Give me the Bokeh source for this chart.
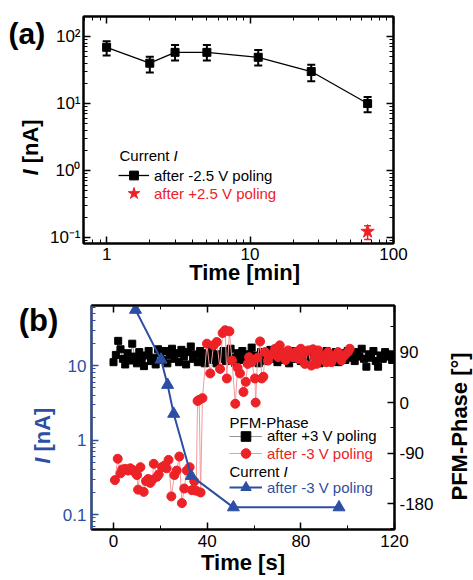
import numpy as np
from bokeh.plotting import figure
from bokeh.layouts import column, row
from bokeh.models import (Range1d, LinearScale, LogAxis, LinearAxis, FixedTicker,
                          CustomJSTickFormatter, Whisker, TeeHead, ColumnDataSource,
                          Label, Legend, LegendItem)
from bokeh.embed import file_html
from bokeh.resources import INLINE

FONT = "Liberation Sans"
RED = "#ec2227"
BLUE = "#2d4fa3"

# ---------------- panel (a) data ----------------
t_min = [1, 2, 3, 5, 11.4, 26.7, 66]
I_neg = [69, 40, 58, 58, 49, 30, 10]
I_neg_hi = [85, 50, 75, 75, 63, 38, 12.5]
I_neg_lo = [52, 29, 44, 44, 37, 21.5, 7.4]
t_pos = [66]
I_pos = [0.123]
I_pos_hi = [0.15]
I_pos_lo = [0.093]
a_xticks = [1, 10, 100]
a_yticks = [0.1, 1, 10, 100]

# ---------------- panel (b) data ----------------
t_cur = [9.4, 20.3, 23.1, 25.7, 33.2, 51.2, 96.3]
I_cur = [56, 12, 5.5, 2.25, 0.33, 0.125, 0.125]

t_black = [0, 1, 2, 3, 4, 5, 6, 7, 8, 9, 10, 11, 12, 13, 14, 15, 16, 17, 18, 19,
           20, 21, 22, 23, 24, 25, 26, 27, 28, 29, 30, 31, 32, 33, 34, 35, 36, 37, 38, 39,
           40, 41, 42, 43, 44, 45, 46, 47, 48, 49, 50, 51, 52, 53, 54, 55, 56, 57, 58, 59,
           60, 61, 62, 63, 64, 65, 66, 67, 68, 69, 70, 71, 72, 73, 74, 75, 76, 77, 78, 79,
           80, 81, 82, 83, 84, 85, 86, 87, 88, 89, 90, 91, 92, 93, 94, 95, 96, 97, 98, 99,
           100, 101, 102, 103, 104, 105, 106, 107, 108, 109, 110, 111, 112, 113, 114, 115,
           116, 117, 118, 119, 120]
ph_black = [72, 85, 110, 95, 78, 68, 88, 75, 105, 82, 70, 90, 78, 65, 84, 92, 74, 80, 68, 95,
            88, 76, 92, 70, 85, 96, 78, 88, 72, 94, 82, 68, 90, 100, 78, 86, 72, 92, 80, 70,
            88, 76, 95, 82, 70, 86, 78, 92, 74, 84, 96, 80, 70, 88, 76, 92, 82, 72, 86, 98,
            78, 84, 70, 90, 80, 74, 88, 94, 78, 84, 72, 90, 82, 76, 88, 70, 84, 92, 78, 86,
            74, 90, 80, 72, 86, 94, 78, 84, 70, 88, 80, 92, 74, 86, 78, 90, 72, 84, 88, 76,
            92, 80, 86, 74, 90, 82, 96, 78, 64, 86, 80, 92, 74, 64, 84, 78, 90, 82, 86, 76, 84]

t_red = [0.6, 1.8, 3.0, 3.7, 5.0, 6.2, 7.2, 8.2, 9.1, 10.0, 10.5, 11.5, 12.9, 13.9, 14.8,
         15.7, 16.5, 17.2, 18.6, 19.3, 20.7, 21.8, 22.7, 23.5, 24.7, 26.0, 27.0, 28.1, 29.2,
         30.2, 31.3, 32.5, 33.5, 34.5, 35.3, 35.9, 36.6, 37.2, 38.0, 39.9, 41.3, 42.7, 44.1,
         45.5, 46.6, 47.7, 48.4, 49.5, 50.6, 52.0, 53.0, 54.0, 55.5, 56.5, 57.3, 57.9, 59.0,
         60.4, 60.7, 61.5, 62.6, 63.3, 64.0, 64.7, 66.0, 67.3, 69.0, 70.3, 71.0, 72.5, 73.5,
         74.6, 75.6, 76.7, 77.8, 78.9, 80.0, 81.0, 81.7, 83.1, 84.5, 85.2, 86.0, 86.7, 87.4,
         88.5, 89.5, 90.9, 91.6, 92.3, 93.0, 94.5, 95.9, 97.3, 98.7, 100.1, 100.9]
ph_red = [-138, -100, -126, -119, -118, -121, -117, -120, -124, -129, -155, -115, -159, -140,
          -136, -143, -138, -109, -132, -128, -115, -112, -117, -102, -167, -129, -121, -96,
          -179, -153, -121, -115, -156, -140, -157, 3, 5, -160, 8, 105, 52, 102, 108, 60, 124,
          129, 43, 127, 75, -2, 62, 52, 19, 37, 69, 81, 72, 43, 0, 80, 109, 43, 46, 90, 75,
          85, 96, 81, 102, 88, 76, 93, 85, 81, 90, 78, 96, 87, 69, 93, 66, 95, 82, 69, 93,
          78, 81, 72, 90, 84, 72, 81, 90, 75, 84, 90, 96]
b_xticks = [0, 40, 80, 120]
b_yticks = [0.1, 1, 10]
b_phticks = [-180, -90, 0, 90]


def style_axis(ax, color="black", fs="17px", standoff=5):
    ax.axis_line_width = 2
    ax.axis_line_color = color
    ax.major_tick_line_color = color
    ax.minor_tick_line_color = color
    ax.major_tick_line_width = 1.5
    ax.minor_tick_line_width = 1
    ax.major_tick_in = 7
    ax.major_tick_out = 0
    ax.minor_tick_in = 4
    ax.minor_tick_out = 0
    ax.major_label_text_font = FONT
    ax.major_label_text_font_size = fs
    ax.major_label_text_color = color
    ax.major_label_standoff = standoff


def title_style(ax, standoff):
    ax.axis_label_text_font = FONT
    ax.axis_label_text_font_size = "22px"
    ax.axis_label_text_font_style = "bold"
    ax.axis_label_text_color = "black"
    ax.axis_label_standoff = standoff


def blank(ax):
    ax.formatter = CustomJSTickFormatter(code="return '';")
    ax.major_label_text_font_size = "0px"
    ax.major_label_standoff = 0


def lab(p, x, y, text, size="15px", color="black", style="normal", align="left",
        angle=0.0):
    p.add_layout(Label(x=x, y=y, x_units="screen", y_units="screen", text=text,
                       text_font=FONT, text_font_size=size, text_color=color,
                       text_font_style=style, text_align=align,
                       text_baseline="middle", angle=angle))


def vlab(p, x, y, text, color="black", style="bold"):
    lab(p, x, y, text, size="22px", color=color, style=style, angle=np.pi / 2)


def legend(p, renderer_list, text, center, color, gw, gh):
    lg = Legend(items=[LegendItem(label=text, renderers=renderer_list)],
                location=(center[0], center[1] - gh / 2.0),
                background_fill_alpha=0, border_line_alpha=0, padding=0, margin=0,
                spacing=0, glyph_width=gw, glyph_height=gh, label_height=16,
                label_standoff=5, label_text_font=FONT, label_text_font_size="15px",
                label_text_color=color)
    p.add_layout(lg)


def strip(w, h, top, bottom):
    s = figure(width=w, height=h, x_range=Range1d(0, 1), y_range=Range1d(0, 1),
               min_border_left=0, min_border_right=0, min_border_top=top,
               min_border_bottom=bottom, toolbar_location=None, output_backend="svg",
               x_axis_location=None, y_axis_location=None)
    s.outline_line_color = None
    s.grid.visible = False
    s.background_fill_color = "white"
    s.border_fill_color = "white"
    return s


# ================= panel (a) =================
log_minor_a = [0.7, 0.8, 0.9] + [k * 1.0 for k in range(2, 10)] + [k * 10.0 for k in range(2, 10)]
log_minor_ay = [0.09] + [k * 0.1 for k in range(2, 10)] + [k * 1.0 for k in range(2, 10)] + \
               [k * 10.0 for k in range(2, 10)]

pa = figure(width=428, height=290, x_axis_type="log", y_axis_type="log",
            x_range=Range1d(0.69, 100), y_range=Range1d(0.0814, 199),
            output_backend="svg", toolbar_location=None,
            min_border_left=38, min_border_right=80, min_border_top=16, min_border_bottom=47)
pa.grid.visible = False
pa.outline_line_color = "black"
pa.outline_line_width = 2

pa.xaxis.ticker = FixedTicker(ticks=a_xticks, minor_ticks=log_minor_a)
pa.yaxis.ticker = FixedTicker(ticks=a_yticks, minor_ticks=log_minor_ay)
style_axis(pa.xaxis[0], standoff=4)
style_axis(pa.yaxis[0], standoff=3)
pa.xaxis.axis_label = "\u00a0\u00a0Time [min]"
title_style(pa.xaxis[0], -3)
pa.xaxis.formatter = CustomJSTickFormatter(code="return tick.toFixed(0);")
pa.yaxis.formatter = CustomJSTickFormatter(code="""
const sup = {"-1": "\u207b\u00b9", "0": "\u2070", "1": "\u00b9", "2": "\u00b2"};
const e = Math.round(Math.log10(tick));
return "10" + sup[String(e)];
""")
ta = LogAxis(ticker=FixedTicker(ticks=a_xticks, minor_ticks=log_minor_a))
style_axis(ta); blank(ta)
pa.add_layout(ta, "above")
ra = LogAxis(ticker=FixedTicker(ticks=a_yticks, minor_ticks=log_minor_ay))
style_axis(ra); blank(ra)
pa.add_layout(ra, "right")

src_a = ColumnDataSource(dict(t=t_min, I=I_neg, hi=I_neg_hi, lo=I_neg_lo))
src_ap = ColumnDataSource(dict(t=t_pos, I=I_pos, hi=I_pos_hi, lo=I_pos_lo))
pa.add_layout(Whisker(source=src_a, base="t", upper="hi", lower="lo", line_width=2,
                      line_color="black",
                      upper_head=TeeHead(size=8, line_width=2, line_color="black"),
                      lower_head=TeeHead(size=8, line_width=2, line_color="black")))
pa.add_layout(Whisker(source=src_ap, base="t", upper="hi", lower="lo", line_width=1.5,
                      line_color=RED,
                      upper_head=TeeHead(size=7, line_width=1.5, line_color=RED),
                      lower_head=TeeHead(size=7, line_width=1.5, line_color=RED)))
ra_line = pa.line("t", "I", source=src_a, line_color="black", line_width=1.3)
ra_sq = pa.scatter("t", "I", source=src_a, marker="square", size=8, color="black")
ra_star = pa.scatter("t", "I", source=src_ap, marker="star", size=14, color=RED)

legend(pa, [ra_line, ra_sq], "after -2.5 V poling", (35, 68), "black", 31, 22)
legend(pa, [ra_star], "after +2.5 V poling", (35, 50), RED, 31, 30)
lab(pa, 36, 88, "Current ")
lab(pa, 90, 88, "I", style="italic")

# left margin of (a): frame spans page y 16..243
left_a = strip(45, 290, 16, 47)
lab(left_a, 8, 210.3, "(a)", size="30px", style="bold")
vlab(left_a, 30, 68, "I", style="bold italic")
vlab(left_a, 30, 80.2, "[nA]")

# ================= panel (b) =================
log_minor_by = [0.07, 0.08, 0.09] + [k * 0.1 for k in range(2, 10)] + \
               [k * 1.0 for k in range(2, 10)] + [k * 10.0 for k in range(2, 7)]

pb = figure(width=381, height=288, y_axis_type="log",
            x_range=Range1d(-9.4, 120), y_range=Range1d(0.063, 64),
            output_backend="svg", toolbar_location=None,
            min_border_left=32, min_border_right=46, min_border_top=15, min_border_bottom=49)
pb.grid.visible = False
pb.outline_line_color = "black"
pb.outline_line_width = 2
pb.extra_y_ranges = {"phase": Range1d(-226, 173)}
pb.extra_y_scales = {"phase": LinearScale()}

pb.xaxis.ticker = FixedTicker(ticks=b_xticks, minor_ticks=[-20, 20, 60, 100])
pb.xaxis.formatter = CustomJSTickFormatter(code="return tick.toFixed(0);")
style_axis(pb.xaxis[0])
pb.xaxis.axis_label = "Time [s]"
title_style(pb.xaxis[0], 0)
pb.yaxis.ticker = FixedTicker(ticks=b_yticks, minor_ticks=log_minor_by)
pb.yaxis.formatter = CustomJSTickFormatter(
    code="return tick >= 1 ? tick.toFixed(0) : tick.toFixed(1);")
style_axis(pb.yaxis[0], color=BLUE)

tb = LinearAxis(ticker=FixedTicker(ticks=b_xticks, minor_ticks=[-20, 20, 60, 100]))
style_axis(tb); blank(tb)
pb.add_layout(tb, "above")
rb = LinearAxis(y_range_name="phase",
                ticker=FixedTicker(ticks=b_phticks, minor_ticks=[-225, -135, -45, 45, 135]),
                formatter=CustomJSTickFormatter(code="return tick.toFixed(0);"))
style_axis(rb)
pb.add_layout(rb, "right")

src_bk = ColumnDataSource(dict(t=t_black, ph=ph_black))
src_rd = ColumnDataSource(dict(t=t_red, ph=ph_red))
src_cu = ColumnDataSource(dict(t=t_cur, I=I_cur))

rb_bl = pb.line("t", "ph", source=src_bk, y_range_name="phase", line_color="#777777",
                line_width=0.8)
rb_bs = pb.scatter("t", "ph", source=src_bk, y_range_name="phase", marker="square",
                   size=7, color="black")
rb_rl = pb.line("t", "ph", source=src_rd, y_range_name="phase", line_color="#f49a9c",
                line_width=1)
rb_rc = pb.scatter("t", "ph", source=src_rd, y_range_name="phase", marker="circle",
                   size=9, color=RED)
rb_cl = pb.line("t", "I", source=src_cu, line_color=BLUE, line_width=2)
rb_ct = pb.scatter("t", "I", source=src_cu, marker="triangle", size=12, color=BLUE)

lab(pb, 138, 107.3, "PFM-Phase")
legend(pb, [rb_bl, rb_bs], "after +3 V poling", (138, 93.3), "black", 33, 24)
legend(pb, [rb_rl, rb_rc], "after -3 V poling", (138, 75.7), RED, 33, 24)
lab(pb, 138, 58.3, "Current ")
lab(pb, 192, 58.3, "I", style="italic")
legend(pb, [rb_cl, rb_ct], "after -3 V poling", (138, 41.7), BLUE, 33, 26)

# margins of (b): frame spans page y 305..529
left_b = strip(59, 288, 15, 49)
lab(left_b, 18.3, 209.2, "(b)", size="31px", style="bold")
vlab(left_b, 42, 65.7, "I", color=BLUE, style="bold italic")
vlab(left_b, 42, 77.9, "[nA]", color=BLUE)

right_b = strip(33, 288, 15, 49)
vlab(right_b, 19, 29, "PFM-Phase [\u00b0]")

layout = column(row(left_a, pa, spacing=0), row(left_b, pb, right_b, spacing=0), spacing=0)
open("out.html", "w", encoding="utf-8").write(file_html(layout, INLINE))
